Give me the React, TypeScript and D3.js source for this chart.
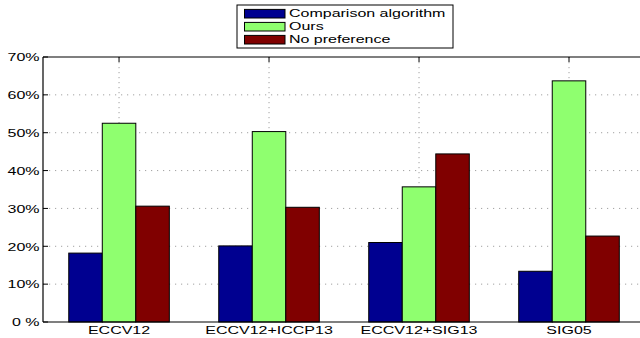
import React from "react";
import * as d3 from "d3";

const categories = ["ECCV12", "ECCV12+ICCP13", "ECCV12+SIG13", "SIG05"];
const seriesNames = ["Comparison algorithm", "Ours", "No preference"];
const comparison = [18.2, 20.1, 21.0, 13.4];
const ours = [52.5, 50.3, 35.7, 63.7];
const noPreference = [30.6, 30.3, 44.4, 22.7];
const seriesColors = ["#000090", "#8FFF6F", "#800000"];
const yTicks = [0, 10, 20, 30, 40, 50, 60, 70];
const yTickLabels = ["0 %", "10%", "20%", "30%", "40%", "50%", "60%", "70%"];

const W = 640;
const H = 338;
const SX = 1.6;

function StretchText({ x, y, anchor, children, size = 10 }: any) {
  return (
    <g transform={`translate(${x},${y}) scale(${SX},1)`}>
      <text
        x={0}
        y={0}
        textAnchor={anchor}
        fontFamily="'Liberation Sans', Arial, Helvetica, sans-serif"
        fontSize={size}
        fill="#000"
      >
        {children}
      </text>
    </g>
  );
}

export default function App() {
  const series = [comparison, ours, noPreference];
  const x = d3.scaleLinear().domain([0.493, 4.5]).range([43, 644]);
  const y = d3.scaleLinear().domain([0, 70]).range([322, 57]);
  const barW = 0.2235;
  const left = x(0.493);
  const right = 644;
  const top = y(70);
  const bottom = y(0);

  return (
    <svg
      width={W}
      height={H}
      style={{ position: "absolute", left: 0, top: 0, background: "#fff" }}
    >
      <rect x={0} y={0} width={W} height={H} fill="#fff" />
      {/* grid */}
      {yTicks.slice(1, -1).map((t) => (
        <line
          key={"gy" + t}
          x1={left}
          x2={right}
          y1={y(t)}
          y2={y(t)}
          stroke="#8a8a8a"
          strokeWidth={0.8}
          strokeDasharray="1.2,4.8"
        />
      ))}
      {categories.map((c, i) => (
        <line
          key={"gx" + c}
          x1={x(i + 1)}
          x2={x(i + 1)}
          y1={top}
          y2={bottom}
          stroke="#8a8a8a"
          strokeWidth={0.8}
          strokeDasharray="1.2,3.8"
        />
      ))}
      {/* bars */}
      {series.map((vals, s) =>
        vals.map((v, i) => {
          const cx = i + 1 + (s - 1) * barW;
          const x0 = x(cx - barW / 2);
          const x1 = x(cx + barW / 2);
          return (
            <rect
              key={`b${s}-${i}`}
              x={x0}
              y={y(v)}
              width={x1 - x0}
              height={bottom - y(v)}
              fill={seriesColors[s]}
              stroke="#000"
              strokeWidth={1}
            />
          );
        })
      )}
      {/* axes box */}
      <line x1={left} x2={right} y1={top} y2={top} stroke="#000" strokeWidth={1.2} />
      <line x1={left} x2={right} y1={bottom} y2={bottom} stroke="#000" strokeWidth={1.2} />
      <line x1={left} x2={left} y1={top} y2={bottom} stroke="#000" strokeWidth={1.2} />
      {yTicks.map((t) => (
        <line key={"ty" + t} x1={left} x2={left + 5} y1={y(t)} y2={y(t)} stroke="#000" strokeWidth={1} />
      ))}
      {categories.map((c, i) => (
        <line
          key={"tx" + c}
          x1={x(i + 1)}
          x2={x(i + 1)}
          y1={top}
          y2={top + 5}
          stroke="#000"
          strokeWidth={1}
        />
      ))}
      {/* tick labels */}
      {yTicks.map((t, i) => (
        <StretchText key={"ly" + t} x={39.5} y={y(t) + 4.3} anchor="end">
          {yTickLabels[i]}
        </StretchText>
      ))}
      {categories.map((c, i) => (
        <StretchText key={"lx" + c} x={x(i + 1)} y={334.3} anchor="middle">
          {c}
        </StretchText>
      ))}
      {/* legend */}
      <rect x={237} y={5} width={216} height={43} fill="#fff" stroke="#000" strokeWidth={1} />
      {seriesNames.map((n, s) => {
        const cy = 13.7 + s * 13;
        return (
          <g key={"lg" + n}>
            <rect
              x={244.5}
              y={cy - 4.3}
              width={40.5}
              height={8.6}
              fill={seriesColors[s]}
              stroke="#000"
              strokeWidth={1}
            />
            <StretchText x={289} y={cy + 3.6} anchor="start">
              {n}
            </StretchText>
          </g>
        );
      })}
    </svg>
  );
}
